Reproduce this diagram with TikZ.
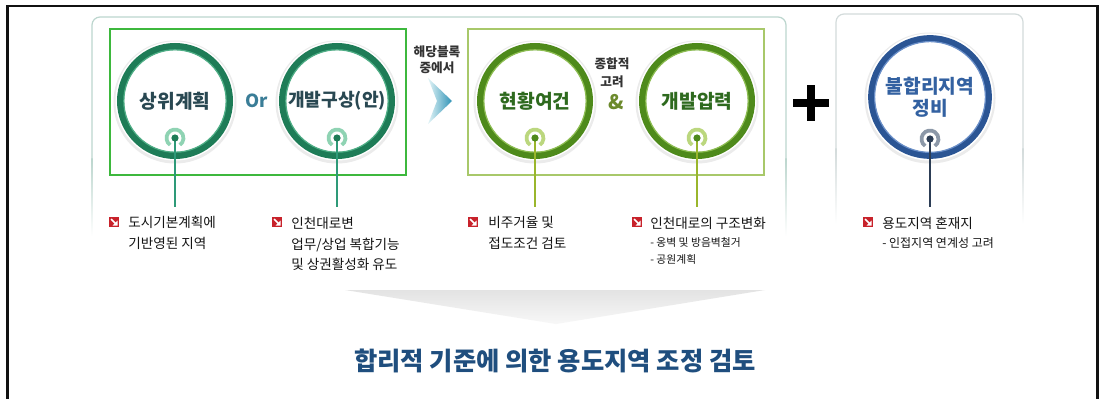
\documentclass[tikz,border=0pt]{standalone}
\usepackage{fontspec}
\setmainfont{Noto Sans CJK KR}
\usetikzlibrary{arrows.meta}

\definecolor{frameC}{HTML}{111111}
\definecolor{boxA}{HTML}{BCD6CE}
\definecolor{boxB}{HTML}{D3DBDB}
\definecolor{grnA}{HTML}{3DB83D}
\definecolor{grnB}{HTML}{A8C86A}
\definecolor{tealR}{HTML}{1E7C57}
\definecolor{tealL}{HTML}{4FAE86}
\definecolor{tealT}{HTML}{8FD3B3}
\definecolor{tealLn}{HTML}{2E9A78}
\definecolor{oliveR}{HTML}{4E8A1B}
\definecolor{oliveL}{HTML}{8DBD52}
\definecolor{oliveT}{HTML}{BBD77E}
\definecolor{oliveLn}{HTML}{9AB62C}
\definecolor{blueR}{HTML}{2B5594}
\definecolor{blueL}{HTML}{6A8FC8}
\definecolor{blueT}{HTML}{8C98A8}
\definecolor{navyLn}{HTML}{2C3D55}
\definecolor{slateT}{HTML}{294852}
\definecolor{orT}{HTML}{3A7D97}
\definecolor{greenT}{HTML}{2E6A1E}
\definecolor{blueTx}{HTML}{3361A1}
\definecolor{ampC}{HTML}{6C8A2C}
\definecolor{bulR}{HTML}{C8222B}
\definecolor{titleC}{HTML}{1F4E7E}
\definecolor{lineC}{HTML}{2A5F8F}
\definecolor{arrowL}{HTML}{E2F4F7}
\definecolor{arrowR}{HTML}{2F93B6}
\definecolor{txtC}{HTML}{141414}
\definecolor{lblC}{HTML}{333333}

\begin{document}
\begin{tikzpicture}[x=0.75pt,y=-0.75pt,
  ringA/.style={circle, minimum size=81.75pt, inner sep=0pt, fill=white, line width=5.25pt},
  ringB/.style={circle, minimum size=87.75pt, inner sep=0pt, fill=white, line width=5pt},
  ctitle/.style={font=\fontsize{14.4}{17}\selectfont\bfseries},
  bul/.style={rectangle, fill=bulR, minimum size=7.6pt, inner sep=0pt,
    path picture={
      \draw[white, line width=1.1pt] ([xshift=1.6pt,yshift=-1.6pt]path picture bounding box.north west)
        -- ([xshift=-2.4pt,yshift=2.4pt]path picture bounding box.south east);
      \fill[white] ([xshift=-1.1pt,yshift=1.1pt]path picture bounding box.south east)
        -- ++(-3.8pt,0pt) -- ++(3.8pt,3.8pt) -- cycle;}},
  btext/.style={anchor=west, align=left, inner sep=0pt, text=txtC, font=\fontsize{10.2}{15.6}\selectfont},
  stext/.style={anchor=west, inner sep=0pt, text=txtC, font=\fontsize{8.1}{10}\selectfont},
  lbl/.style={align=center, inner sep=0pt, text=lblC, font=\fontsize{9.5}{12}\selectfont\bfseries},
  tline/.style={line width=1.9pt},
]
\useasboundingbox (0,0) rectangle (1102,399);
\clip (0,0) rectangle (1102,399);
\fill[white] (0,0) rectangle (1102,399);

% outer frame
\draw[frameC, line width=2pt] (7.3,6) rectangle (1097.8,430);

% light outer boxes
\draw[boxA, line width=0.9pt, rounded corners=6pt] (92,160) -- (92,17) -- (786,17) -- (786,160);
\shade[top color=boxA, bottom color=white] (91.4,159) rectangle (92.6,236);
\shade[top color=boxA, bottom color=white] (785.4,159) rectangle (786.6,236);
\draw[boxB, line width=0.9pt, rounded corners=6pt] (836,150) -- (836,14) -- (1023,14) -- (1023,150);
\shade[top color=boxB, bottom color=white] (835.4,149) rectangle (836.6,224);
\shade[top color=boxB, bottom color=white] (1022.4,149) rectangle (1023.6,224);

% green group boxes
\draw[grnA, line width=1.5pt] (110,29) rectangle (406,175);
\draw[grnB, line width=1.5pt] (468,29) rectangle (764,175);

% circle backgrounds (shadow + rim)
\fill[gray!16] (175,102) circle (61.5);
\fill[gray!16] (337,102) circle (61.5);
\fill[gray!16] (535,102) circle (61.5);
\fill[gray!16] (697,102) circle (61.5);
\fill[gray!16] (930,98) circle (65.5);
\fill[white] (175,101) circle (59.5);
\fill[white] (337,101) circle (59.5);
\fill[white] (535,101) circle (59.5);
\fill[white] (697,101) circle (59.5);
\fill[white] (930,97) circle (63.5);

% circles
\node[ringA, draw=tealR, ctitle, text=slateT] (c1) at (175,101) {상위계획};
\node[ringA, draw=tealR, font=\fontsize{13.6}{17}\selectfont\bfseries, text=slateT] (c2) at (337,101) {개발구상(안)};
\node[ringA, draw=oliveR, ctitle, text=greenT] (c3) at (535,101) {현황여건};
\node[ringA, draw=oliveR, ctitle, text=greenT] (c4) at (697,101) {개발압력};
\node[ringB, draw=blueR, align=center, font=\fontsize{14.4}{16.5}\selectfont\bfseries, text=blueTx] (c5) at (930,97) {불합리지역\\정비};
% inner highlight of rings
\draw[tealL, line width=0.9pt] (c1) circle (51.2);
\draw[tealL, line width=0.9pt] (c2) circle (51.2);
\draw[oliveL, line width=0.9pt] (c3) circle (51.2);
\draw[oliveL, line width=0.9pt] (c4) circle (51.2);
\draw[blueL, line width=0.9pt] (c5) circle (55.4);

% connector labels between circles
\node[font=\fontsize{13.5}{16}\selectfont\bfseries, text=orT] (or) at (257,101) {Or};
\node[lbl] (sel) at (437,60) {해당블록\\중에서};
\node[lbl, font=\fontsize{9.5}{13.5}\selectfont\bfseries] (comp) at (612,73) {종합적\\고려};
\node[font=\fontsize{15}{16}\selectfont\bfseries, text=ampC] (amp) at (616,102) {\&};

% chevron arrow
\shade[left color=arrowL, right color=arrowR] (428,78) -- (452,101) -- (428,124) -- (437,101) -- cycle;

% plus sign
\fill[black] (793,99) rectangle (829,107);
\fill[black] (807,85) rectangle (815,121);

% targets and connector lines
\coordinate (t1) at (175,138); \coordinate (e1) at (175,207);
\coordinate (t2) at (337,138); \coordinate (e2) at (337,207);
\coordinate (t3) at (535,138); \coordinate (e3) at (535,207);
\coordinate (t4) at (697,138); \coordinate (e4) at (697,207);
\coordinate (t5) at (930,139); \coordinate (e5) at (930,207);

\draw[tealT, line width=2.8pt] ([shift={(125:8.5)}]t1) arc (125:415:8.5);
\draw[tealT, line width=2.8pt] ([shift={(125:8.5)}]t2) arc (125:415:8.5);
\draw[oliveT, line width=2.8pt] ([shift={(125:8.5)}]t3) arc (125:415:8.5);
\draw[oliveT, line width=2.8pt] ([shift={(125:8.5)}]t4) arc (125:415:8.5);
\draw[blueT, line width=2.8pt] ([shift={(125:8.5)}]t5) arc (125:415:8.5);

\draw[tline, tealLn] (t1) -- (e1);
\draw[tline, tealLn] (t2) -- (e2);
\draw[tline, oliveLn] (t3) -- (e3);
\draw[tline, oliveLn] (t4) -- (e4);
\draw[tline, navyLn] (t5) -- (e5);

\fill[tealR] (t1) circle (3.6);
\fill[tealR] (t2) circle (3.6);
\fill[oliveR] (t3) circle (3.6);
\fill[oliveR] (t4) circle (3.6);
\fill[navyLn] (t5) circle (3.6);

% bullets
\node[bul] (b1) at (114,222) {};
\node[btext] (b1t) at (128,233) {도시기본계획에\\기반영된 지역};
\node[bul] (b2) at (277,222) {};
\node[btext] (b2t) at (291,244) {인천대로변\\업무/상업 복합기능\\및 상권활성화 유도};
\node[bul] (b3) at (473,222) {};
\node[btext] (b3t) at (488,233) {비주거율 및\\접도조건 검토};
\node[bul] (b4) at (637,222) {};
\node[btext] (b4t) at (650,223) {인천대로의 구조변화};
\node[stext] (b4a) at (650,242) {- 옹벽 및 방음벽철거};
\node[stext] (b4b) at (650,259) {- 공원계획};
\node[bul] (b5) at (868,222) {};
\node[btext] (b5t) at (882,223) {용도지역 혼재지};
\node[stext, font=\fontsize{9}{10}\selectfont] (b5a) at (882,243) {- 인접지역 연계성 고려};

% bottom funnel
\shade[top color=gray!22, bottom color=gray!6] (345,290) -- (765,290) -- (556,324) -- cycle;

% result band
\shade[left color=white, middle color=lineC, right color=white] (113,332.5) rectangle (993,334.5);
\shade[left color=white, middle color=lineC, right color=white] (113,388) rectangle (993,390);
\node[font=\fontsize{19}{22}\selectfont\bfseries, text=titleC] (result) at (555,361) {합리적 기준에 의한 용도지역 조정 검토};
\end{tikzpicture}
\end{document}
